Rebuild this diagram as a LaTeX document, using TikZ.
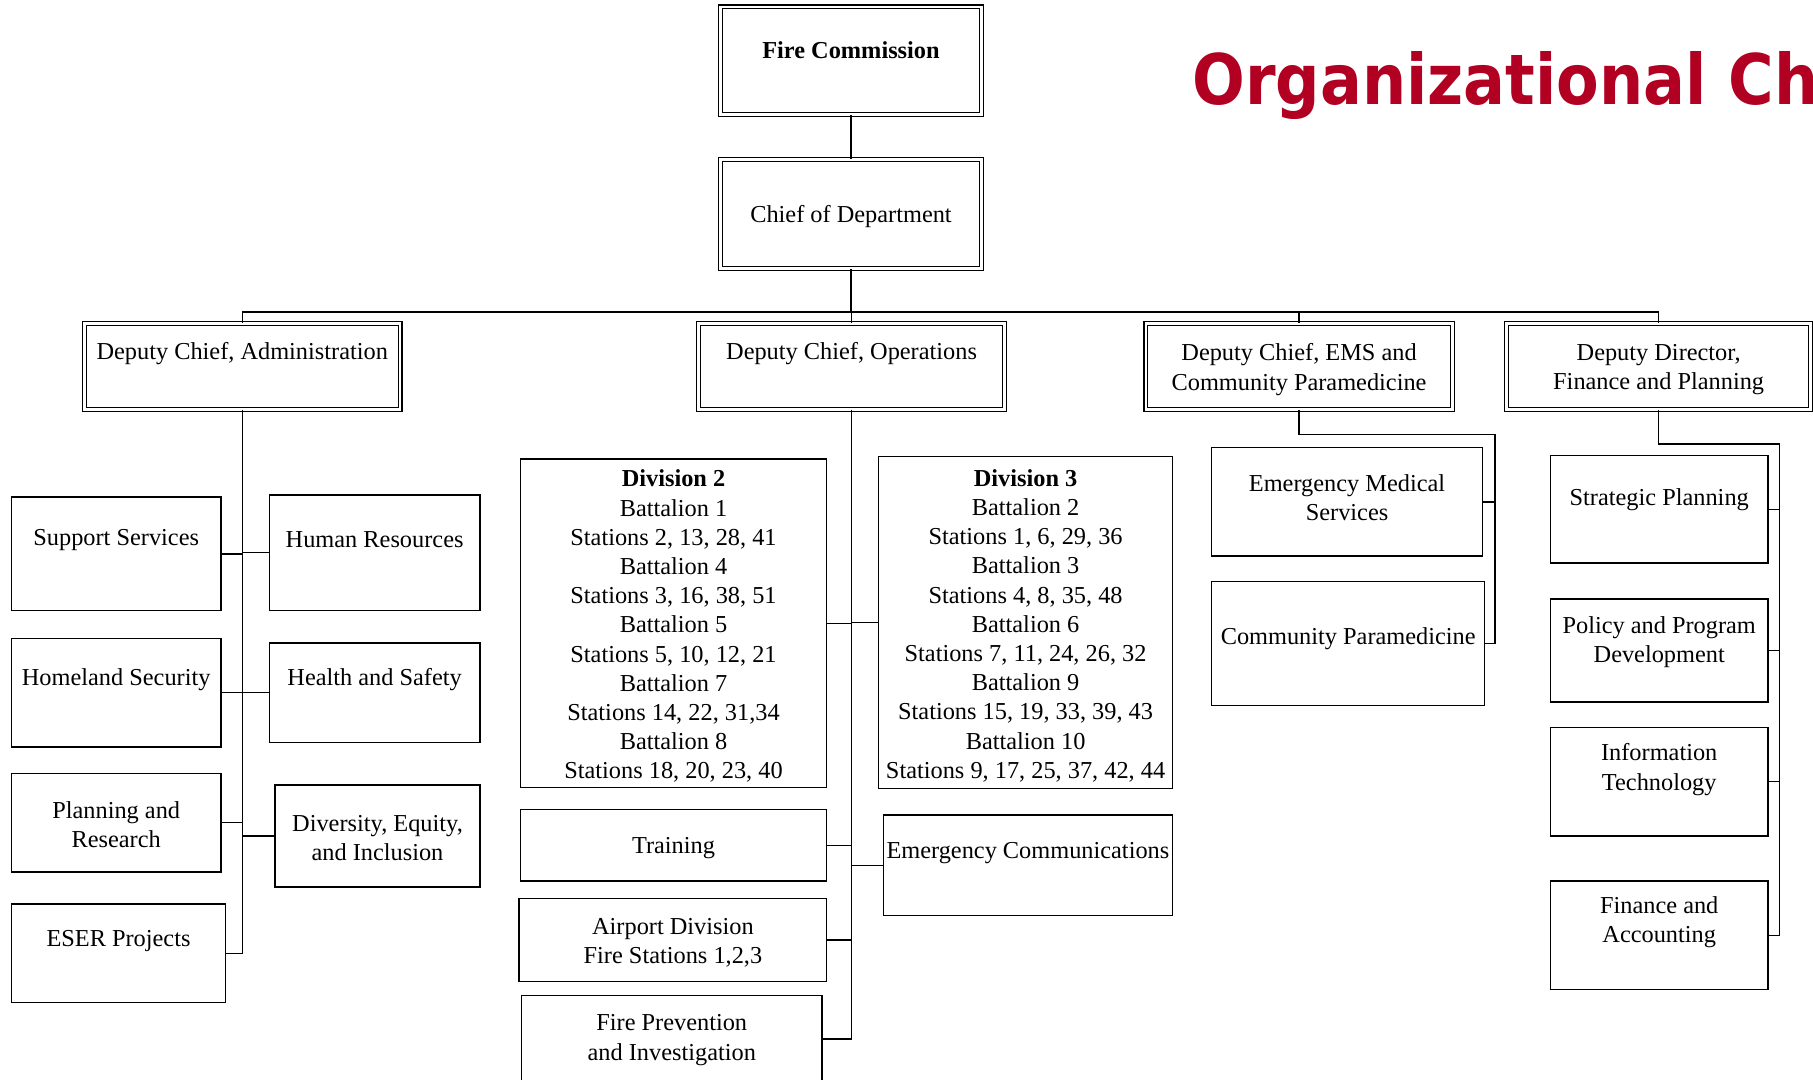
\documentclass[tikz,border=0pt]{standalone}
\usepackage{fontspec}
\setmainfont{Liberation Serif}
\newfontfamily\titlefont[FakeStretch=0.89]{DejaVu Sans}
\usetikzlibrary{calc,fit}
\definecolor{chartred}{RGB}{178,0,35}

\begin{document}
\begin{tikzpicture}[x=0.57pt,y=-0.57pt,
    unit/.style={draw,line width=.7pt,inner sep=0pt},
    dunit/.style={draw,double,double distance=1.3pt,line width=.6pt,inner sep=0pt},
    lbl/.style={align=center,inner sep=0pt,yshift=-1.5pt,font=\fontsize{12}{14.4}\selectfont},
    link/.style={line width=.7pt}]
\useasboundingbox (0,0) rectangle (1568,934);
\clip (0,0) rectangle (1568,934);

% title
\node[anchor=base west,inner sep=0pt,text=chartred,font=\titlefont\bfseries\fontsize{34.4}{40}\selectfont] (title) at (1031,90) {Organizational Ch};

% top of the chart
\node[dunit, fit={(623,6) (849,99)}] (fc) {};
\node[lbl] (fctxt) at ($(fc.north)+(0,35)$) {\bfseries Fire Commission};
\node[dunit, fit={(623,138) (849,232)}] (chief) {};
\node[lbl] (chieftxt) at (chief.center) {Chief of Department};

\node[dunit, fit={(73,280) (346,354)}] (adm) {};
\node[lbl] (admtxt) at ($(adm.north)+(0,24)$) {Deputy Chief, Administration};
\node[dunit, fit={(604,280) (869,354)}] (ops) {};
\node[lbl] (opstxt) at ($(ops.north)+(0,24)$) {Deputy Chief, Operations};
\node[dunit, fit={(991,280) (1256,354)}] (ems) {};
\node[lbl] (emstxt) at (ems.center) {Deputy Chief, EMS and\\Community Paramedicine};
\node[dunit, fit={(1303,280) (1566,354)}] (fin) {};
\node[lbl] (fintxt) at (fin.center) {Deputy Director,\\Finance and Planning};

\coordinate (bus) at (736,270);
\draw[link] (fc) -- (chief);
\draw[link] (chief.south) -- (bus);
\draw[link] (adm.north) |- (bus) -| (fin.north);
\draw[link] (ops.north) -- (ops.north |- bus);
\draw[link] (ems.north) -- (ems.north |- bus);

% administration
\node[unit, fit={(10,430) (191,528)}] (supp) {};
\node[lbl] (supptxt) at ($(supp.north)+(0,35)$) {Support Services};
\node[unit, fit={(233,428) (415,528)}] (hr) {};
\node[lbl] (hrtxt) at ($(hr.north)+(0,37)$) {Human Resources};
\node[unit, fit={(10,552) (191,646)}] (hom) {};
\node[lbl] (homtxt) at ($(hom.north)+(0,34)$) {Homeland Security};
\node[unit, fit={(233,556) (415,642)}] (hs) {};
\node[lbl] (hstxt) at ($(hs.north)+(0,30)$) {Health and Safety};
\node[unit, fit={(10,669) (191,754)}] (pr) {};
\node[lbl] (prtxt) at ($(pr.north)+(0,42.5)$) {Planning and\\Research};
\node[unit, fit={(238,679) (415,767)}] (dei) {};
\node[lbl] (deitxt) at ($(dei.north)+(0,44)$) {Diversity, Equity,\\and Inclusion};
\node[unit, fit={(10,782) (195,867)}] (eser) {};
\node[lbl] (esertxt) at ($(eser.north)+(0,30)$) {ESER Projects};

\draw[link] (adm.south) |- (eser.east);
\draw[link] (supp.east) -- (supp.east -| adm.south);
\draw[link] (hr.west) -- (hr.west -| adm.south);
\draw[link] (hom.east) -- (hom.east -| adm.south);
\draw[link] (hs.west) -- (hs.west -| adm.south);
\draw[link] (pr.east) -- (pr.east -| adm.south);
\draw[link] (dei.west) -- (dei.west -| adm.south);

% operations
\node[unit, fit={(450,397) (715,681)}] (div2) {};
\node[lbl] (div2txt) at (div2.center) {\textbf{Division 2}\\Battalion 1\\Stations 2, 13, 28, 41\\Battalion 4\\Stations 3, 16, 38, 51\\Battalion 5\\Stations 5, 10, 12, 21\\Battalion 7\\Stations 14, 22, 31,34\\Battalion 8\\Stations 18, 20, 23, 40};
\node[unit, fit={(760,395) (1014,682)}] (div3) {};
\node[lbl] (div3txt) at (div3.center) {\textbf{Division 3}\\Battalion 2\\Stations 1, 6, 29, 36\\Battalion 3\\Stations 4, 8, 35, 48\\Battalion 6\\Stations 7, 11, 24, 26, 32\\Battalion 9\\Stations 15, 19, 33, 39, 43\\Battalion 10\\Stations 9, 17, 25, 37, 42, 44};
\node[unit, fit={(450,700) (715,762)}] (train) {};
\node[lbl] (traintxt) at (train.center) {Training};
\node[unit, fit={(764,705) (1014,792)}] (ecom) {};
\node[lbl] (ecomtxt) at ($(ecom.north)+(0,31)$) {Emergency Communications};
\node[unit, fit={(449,777) (715,849)}] (air) {};
\node[lbl] (airtxt) at (air.center) {Airport Division\\Fire Stations 1,2,3};
\node[unit, fit={(451,861) (711,936)}] (fp) {};
\node[lbl] (fptxt) at ($(fp.north)+(0,36.5)$) {Fire Prevention\\and Investigation};

\draw[link] (ops.south) |- (fp.east);
\draw[link] (div2.east) -- (div2.east -| ops.south);
\draw[link] (div3.west) -- (div3.west -| ops.south);
\draw[link] (train.east) -- (train.east -| ops.south);
\draw[link] (ecom.west) -- (ecom.west -| ops.south);
\draw[link] (air.east) -- (air.east -| ops.south);

% EMS
\node[unit, fit={(1048,387) (1282,481)}] (emsv) {};
\node[lbl] (emsvtxt) at ($(emsv.north)+(0,41.5)$) {Emergency Medical\\Services};
\node[unit, fit={(1048,503) (1284,610)}] (cp) {};
\node[lbl] (cptxt) at ($(cp.north)+(0,47)$) {Community Paramedicine};

\coordinate (emsbend) at (1293,376);
\draw[link] (ems.south) |- (emsbend) |- (cp.east);
\draw[link] (emsv.east) -- (emsv.east -| emsbend);

% finance
\node[unit, fit={(1341,394) (1529,487)}] (sp) {};
\node[lbl] (sptxt) at ($(sp.north)+(0,36)$) {Strategic Planning};
\node[unit, fit={(1341,518) (1529,607)}] (ppd) {};
\node[lbl] (ppdtxt) at ($(ppd.north)+(0,35.5)$) {Policy and Program\\Development};
\node[unit, fit={(1341,629) (1529,723)}] (it) {};
\node[lbl] (ittxt) at ($(it.north)+(0,34.5)$) {Information\\Technology};
\node[unit, fit={(1341,762) (1529,856)}] (fa) {};
\node[lbl] (fatxt) at ($(fa.north)+(0,33.5)$) {Finance and\\Accounting};

\coordinate (finbend) at (1539,384);
\draw[link] (fin.south) |- (finbend) |- (fa.east);
\draw[link] (sp.east) -- (sp.east -| finbend);
\draw[link] (ppd.east) -- (ppd.east -| finbend);
\draw[link] (it.east) -- (it.east -| finbend);
\end{tikzpicture}
\end{document}
